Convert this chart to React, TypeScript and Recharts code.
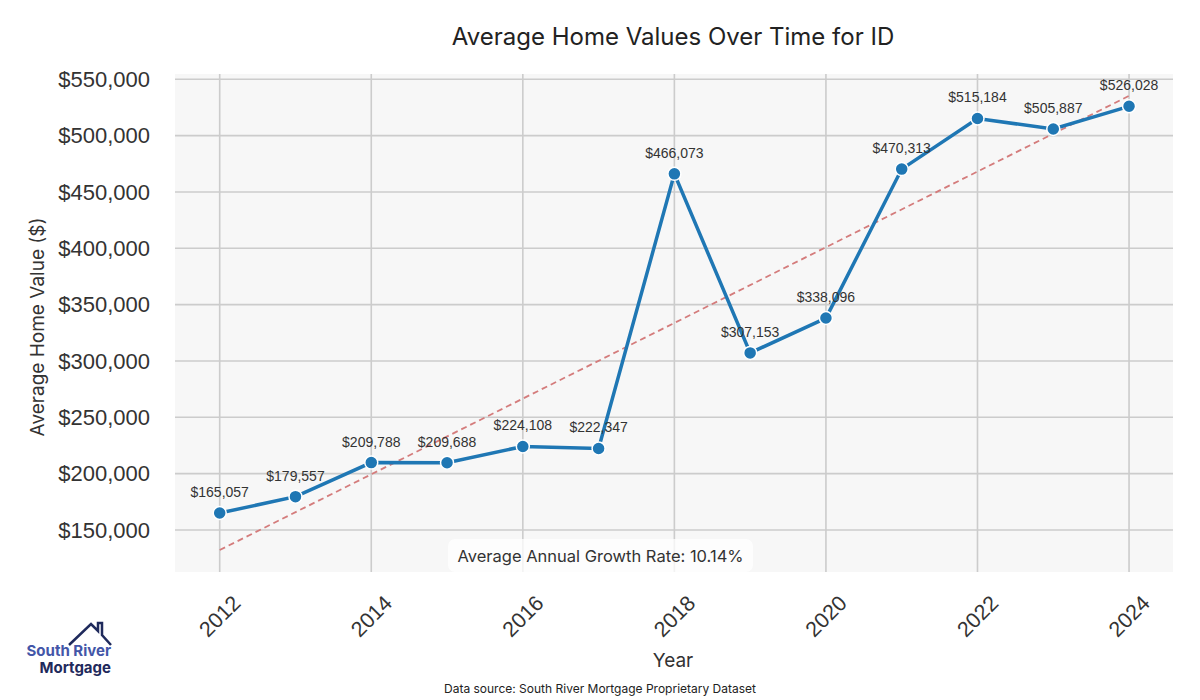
import { LineChart, Line, XAxis, YAxis, CartesianGrid, LabelList, ReferenceLine } from "recharts"

const years = [2012, 2013, 2014, 2015, 2016, 2017, 2018, 2019, 2020, 2021, 2022, 2023, 2024]
const homeValues = [165057, 179557, 209788, 209688, 224108, 222347, 466073, 307153, 338096, 470313, 515184, 505887, 526028]
// trend line end points (fitted line)
const trendValues = [132200, null, null, null, null, null, null, null, null, null, null, null, 535300]
const xTicks = [2012, 2014, 2016, 2018, 2020, 2022, 2024]
const yTicks = [150000, 200000, 250000, 300000, 350000, 400000, 450000, 500000, 550000]

const data = years.map((year, i) => ({ year, value: homeValues[i], trend: trendValues[i] }))

const money = (v: number) => '$' + v.toLocaleString('en-US')
const sans = '"Liberation Sans", Arial, sans-serif'
const headFont = 'Inter, Lato, sans-serif'
const gridColor = '#cccccc'

function XTick({ x, y, payload }: any) {
  return (
    <g transform={`translate(${x},${y + 36}) rotate(-45)`}>
      <text textAnchor="middle" dy="0.35em" fontSize={21.5} fill="#333" fontFamily={sans}>{payload.value}</text>
    </g>
  )
}

function YTick({ x, y, payload }: any) {
  return (
    <text x={x - 17} y={y} dy="0.35em" textAnchor="end" fontSize={22} fill="#333" fontFamily={sans}>{money(payload.value)}</text>
  )
}

function ValueLabel({ x, y, value }: any) {
  return (
    <text x={x} y={y - 21} dy="0.35em" textAnchor="middle" fontSize={14} fill="#333" fontFamily={sans}>{money(value)}</text>
  )
}

function App() {
  return (
    <div style={{ position: 'absolute', left: 0, top: 0, width: 1200, height: 700, background: '#fff' }}>
      <LineChart width={1200} height={700} data={data} margin={{ top: 74, right: 27, left: 0, bottom: 0 }}>
        <CartesianGrid horizontal={false} vertical={false} fill="#f7f7f7" fillOpacity={1} />
        <XAxis dataKey="year" type="number" domain={[2011.41, 2024.58]} ticks={xTicks} height={128}
          axisLine={false} tickLine={false} tick={<XTick />} interval={0} />
        <YAxis type="number" domain={[112700, 554700]} ticks={yTicks} width={175}
          axisLine={false} tickLine={false} tick={<YTick />} interval={0} />
        {yTicks.map(t => <ReferenceLine key={'h' + t} y={t} stroke={gridColor} strokeWidth={1.6} />)}
        {xTicks.map(t => <ReferenceLine key={'v' + t} x={t} stroke={gridColor} strokeWidth={1.6} />)}
        <Line dataKey="trend" connectNulls stroke="#d47c7c" strokeWidth={1.8} strokeDasharray="6 4"
          dot={false} activeDot={false} isAnimationActive={false} />
        <Line dataKey="value" stroke="#1f77b4" strokeWidth={3.5}
          dot={{ r: 6.5, fill: '#1f77b4', stroke: '#fff', strokeWidth: 1.5 }} activeDot={false} isAnimationActive={false}>
          <LabelList dataKey="value" content={<ValueLabel />} />
        </Line>
      </LineChart>

      <div style={{ position: 'absolute', left: 448, top: 539, width: 305, height: 33, borderRadius: 7,
        background: 'rgba(255,255,255,0.75)', display: 'flex', alignItems: 'center', justifyContent: 'center',
        fontFamily: headFont, fontSize: 16.5, color: '#333' }}>
        Average Annual Growth Rate: 10.14%
      </div>

      <div style={{ position: 'absolute', left: 0, width: 1346, top: 22, textAlign: 'center', fontFamily: headFont, fontSize: 24, color: '#222' }}>
        Average Home Values Over Time for ID
      </div>
      <div style={{ position: 'absolute', left: 37, top: 327, transform: 'translate(-50%,-50%) rotate(-90deg)', whiteSpace: 'nowrap',
        fontFamily: headFont, fontSize: 19, color: '#333' }}>
        Average Home Value ($)
      </div>
      <div style={{ position: 'absolute', left: 0, width: 1346, top: 649, textAlign: 'center', fontFamily: headFont, fontSize: 19, color: '#333' }}>
        Year
      </div>
      <div style={{ position: 'absolute', left: 0, width: 1200, top: 681, textAlign: 'center', fontFamily: headFont, fontSize: 12, color: '#222' }}>
        Data source: South River Mortgage Proprietary Dataset
      </div>

      <svg style={{ position: 'absolute', left: 0, top: 600 }} width={140} height={90}>
        <polyline points="69,45 91,24 98,31 98,23 102,23 102,35 111,45" fill="none" stroke="#1f2a5c" strokeWidth={2.5} strokeLinejoin="miter" />
        <text x={111} y={56} textAnchor="end" fontFamily={headFont} fontWeight={700} fontSize={15} fill="#4356a8">South River</text>
        <text x={111} y={73} textAnchor="end" fontFamily={headFont} fontWeight={700} fontSize={15} fill="#1f2a5c">Mortgage</text>
      </svg>
    </div>
  )
}

export default App
